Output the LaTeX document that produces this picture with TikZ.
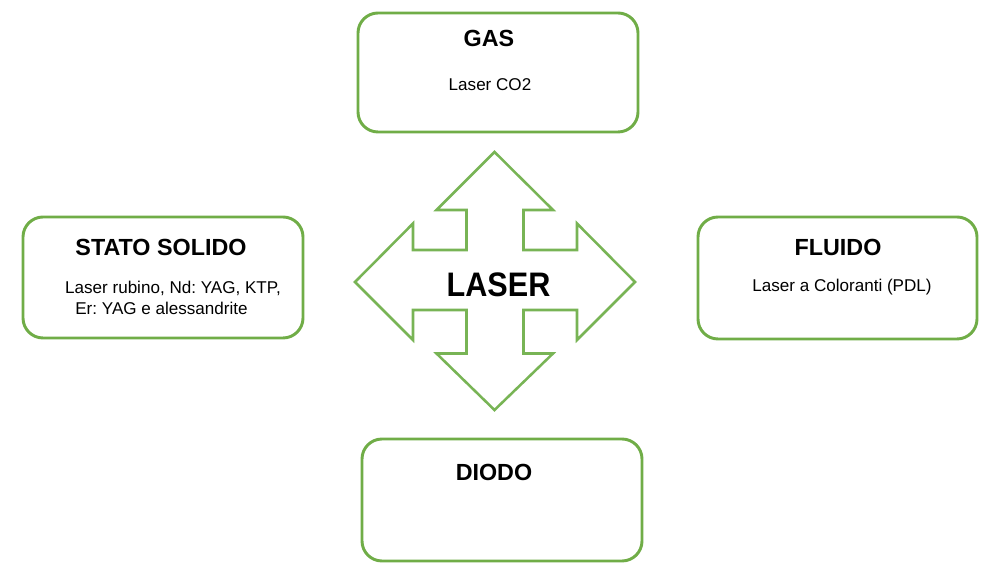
\documentclass[tikz,border=0pt]{standalone}
\usepackage{fontspec}
\setmainfont{Liberation Sans}
\definecolor{boxgreen}{RGB}{112,173,71}
\definecolor{arrowgreen}{RGB}{120,180,85}
\frenchspacing
\begin{document}
\begin{tikzpicture}[x=0.75pt,y=-0.75pt,
  catbox/.style={draw=boxgreen,line width=2.2pt,rounded corners=15pt,fill=white},
  titletext/.style={anchor=base,font=\fontsize{17.5}{20}\selectfont\bfseries},
  bodytext/.style={anchor=base,font=\fontsize{12.8}{15}\selectfont},
  bigtext/.style={anchor=base,font=\fontsize{25.5}{30}\selectfont\bfseries,xscale=0.9}]
\useasboundingbox (0,0) rectangle (1000,573);
\fill[white] (0,0) rectangle (1000,573);
% boxes
\draw[catbox] (358,13) rectangle (638,132);
\draw[catbox] (23,217) rectangle (303,338);
\draw[catbox] (698,217) rectangle (977,339);
\draw[catbox] (362,439) rectangle (642,561);
% four-way arrow
\draw[arrowgreen,line width=1.9pt,line join=miter]
  (494.5,152) -- (553,210) -- (523.5,210) -- (523.5,250) -- (577,250) -- (577,223.5)
  -- (635,282) -- (577,340) -- (577,310) -- (523.5,310) -- (523.5,353.5) -- (553,353.5)
  -- (494.5,410) -- (436.5,353.5) -- (466.5,353.5) -- (466.5,310) -- (413,310) -- (413,340)
  -- (355,282) -- (413,223.5) -- (413,250) -- (466.5,250) -- (466.5,210) -- (436.5,210) -- cycle;
% texts
\node[bigtext] (laser) at (498.5,296.5) {LASER};
\node[titletext] (gas) at (489,46.7) {GAS};
\node[bodytext] (gasb) at (490,90.7) {Laser CO2};
\node[titletext] (solido) at (161,256) {STATO SOLIDO};
\node[bodytext] (solidob1) at (173,293.3) {Laser rubino, Nd: YAG, KTP,};
\node[bodytext] (solidob2) at (161.5,314.5) {Er: YAG e alessandrite};
\node[titletext] (fluido) at (838,255.7) {FLUIDO};
\node[bodytext] (fluidob) at (842,291.5) {Laser a Coloranti (PDL)};
\node[titletext] (diodo) at (494,480.7) {DIODO};
\end{tikzpicture}
\end{document}
